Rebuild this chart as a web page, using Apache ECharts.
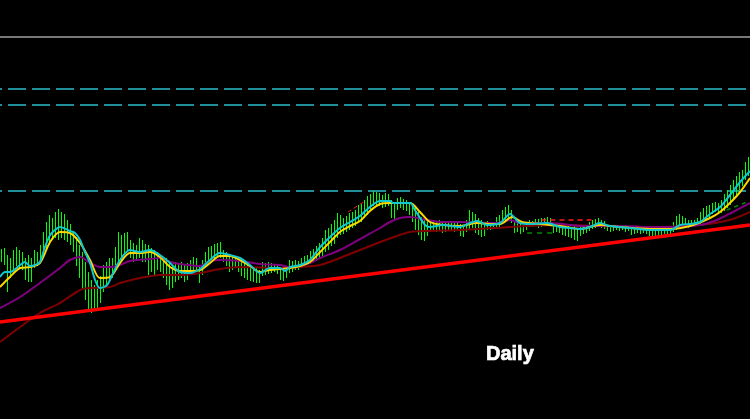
<!DOCTYPE html>
<html><head><meta charset="utf-8">
<script src="https://cdn.jsdelivr.net/npm/echarts@6/dist/echarts.min.js"></script>
<style>html,body{margin:0;padding:0;background:#000;}#c{width:750px;height:419px;}</style>
</head><body><div id="c"></div>
<script>
// Daily price bars: high / low per bar (arbitrary price units)
const highs = [170,171,164,161,169,172,169,167,161,164,
161,169,167,174,187,197,204,201,207,210,
207,205,199,195,187,182,174,167,157,147,
139,134,139,143,154,157,161,161,172,187,
184,186,187,179,176,174,181,179,175,174,
171,169,167,164,161,161,157,154,157,156,
157,154,156,159,162,161,154,159,167,172,
173,175,176,177,169,167,164,163,162,161,
159,157,154,153,152,151,149,157,156,157,
156,155,154,151,151,153,159,158,159,158,
161,163,164,168,170,173,176,181,189,191,
195,199,206,204,201,203,206,207,209,214,
215,219,223,225,228,227,226,224,226,225,
219,216,221,222,220,219,216,214,211,207,
202,199,199,198,199,198,199,198,197,197,
197,196,197,195,194,199,209,207,205,201,
199,197,198,196,197,202,204,209,212,214,
209,197,196,195,194,196,199,198,200,200,
201,201,202,201,194,194,195,194,193,194,
192,193,191,193,194,193,197,199,200,201,
199,198,194,194,193,194,193,193,192,193,
192,191,192,191,192,191,189,189,188,189,
190,191,190,191,197,203,205,203,201,199,
199,199,201,207,211,213,214,216,217,216,
219,225,229,234,239,243,247,249,257,262];
const lows = [157,154,127,141,149,153,151,149,139,137,
137,151,153,157,161,169,174,179,181,179,
181,179,177,174,167,153,141,129,119,109,
106,109,111,116,127,133,139,141,151,153,
157,164,169,161,157,159,161,157,157,144,
147,144,149,147,141,134,129,131,137,139,
141,137,139,144,149,147,136,144,153,157,
157,159,163,161,157,153,147,149,151,147,
143,141,139,138,137,136,136,143,144,145,
146,147,145,139,138,141,146,147,149,149,
151,152,154,155,157,158,161,163,167,169,
173,175,181,184,185,187,189,191,193,197,
197,201,204,209,213,214,213,211,212,213,
201,199,209,211,209,208,204,197,189,184,
179,178,183,187,189,187,188,186,187,189,
188,187,189,183,182,187,189,191,186,184,
182,183,189,189,190,191,192,195,197,199,
196,186,187,185,187,189,192,192,193,191,
192,193,194,193,186,187,186,184,183,182,
181,179,178,183,185,186,188,190,191,192,
191,190,188,187,188,189,188,189,187,188,
184,185,186,185,186,185,183,182,183,184,
184,185,184,185,187,189,191,192,191,191,
192,193,193,195,197,199,201,205,207,206,
206,208,211,214,219,224,229,233,239,243];

// Moving averages: [bar index, value]
const maFast = [[-0.5,142],[1.2,147],[2.8,147],[6.2,154],[7.8,157],[9.5,153],[11.2,154],[12.8,157],[14.5,172],[16.2,184],[17.8,189],[19.5,192],[22.8,188],[24.5,186],[26.2,179],[27.8,167],[29.5,156],[31.2,139],[32.8,131],[35.2,134],[37.2,146],[39.5,159],[42.8,169],[46.2,167],[49.5,169],[52.8,164],[56.2,156],[59.5,147],[62.8,146],[66.2,150],[69.5,159],[72.8,166],[76.2,164],[79.5,161],[82.8,154],[86.2,146],[89.5,151],[92.8,151],[94.5,148],[96.2,152],[99.5,154],[102.8,159],[106.2,172],[109.5,182],[112.8,191],[116.2,197],[119.5,203],[122.8,212],[126.2,218],[129.5,218],[130.5,216],[136.2,216],[137.8,209],[141.2,194],[142.8,192],[147.2,194],[152.8,192],[156.2,196],[158.5,198],[161.8,194],[166.2,196],[169.5,205],[172.8,196],[176.2,195],[181.8,196],[186.2,192],[189.5,191],[192.8,190],[196.2,192],[199.5,196],[202.8,193],[209.5,191],[216.2,189],[222.8,189],[226.2,194],[229.5,195],[232.8,197],[236.2,205],[239.5,212],[242.8,224],[246.2,237],[249.5,248]];
const maMid = [[-0.5,132],[2.8,142],[6.2,151],[9.5,152],[12.8,156],[16.2,177],[19.5,187],[22.8,186],[26.2,176],[29.5,159],[32.8,141],[36.2,142],[39.5,156],[42.8,166],[46.2,166],[49.5,167],[52.8,162],[56.2,152],[59.5,148],[62.8,148],[66.2,149],[69.5,156],[72.8,163],[76.2,163],[79.5,159],[82.8,153],[86.2,147],[89.5,149],[92.8,150],[96.2,151],[99.5,153],[102.8,157],[106.2,167],[109.5,177],[112.8,187],[116.2,193],[119.5,198],[122.8,208],[126.2,215],[129.5,216],[132.8,216],[136.2,216],[139.5,207],[142.8,197],[147.2,194],[152.8,193],[158.5,196],[162.8,195],[166.2,195],[170.2,202],[173.5,197],[179.5,195],[186.2,193],[192.8,190],[199.5,194],[206.2,192],[216.2,190],[222.8,190],[229.5,193],[236.2,201],[239.5,207],[242.8,216],[246.2,227],[249.5,241]];
const maSlow = [[-0.5,111],[6.2,122],[12.8,136],[19.5,151],[22.8,159],[26.2,162],[29.5,156],[32.8,152],[36.2,152],[39.5,154],[42.8,158],[49.5,160],[52.8,161],[56.2,157],[59.5,155],[66.2,153],[69.5,158],[72.8,159],[79.5,158],[86.2,155],[92.8,154],[96.2,152],[99.5,153],[102.8,156],[106.2,161],[112.8,169],[119.5,180],[126.2,191],[129.5,197],[132.8,201],[136.2,202],[141.8,199],[147.2,197],[152.8,197],[163.8,196],[167.2,197],[169.5,199],[172.8,196],[182.8,196],[193.8,193],[205.2,193],[216.2,192],[221.8,192],[232.8,194],[238.5,199],[243.8,207],[249.5,216]];
const maLong = [[-0.5,77],[6.2,92],[12.8,106],[19.5,116],[26.2,129],[29.5,131],[36.2,132],[39.5,136],[46.2,141],[52.8,144],[59.5,144],[66.2,146],[72.8,150],[79.5,152],[92.8,151],[99.5,152],[106.2,154],[112.8,161],[119.5,169],[126.2,177],[132.8,184],[136.2,187],[141.8,188],[152.8,189],[163.8,191],[175.2,193],[186.2,194],[199.5,193],[216.2,192],[232.8,194],[242.8,199],[249.5,207]];
const trend = [[-0.5,97],[249.5,194]];
const levelSolid = [382];
const levelsDashed = [330,314,228];
const redDash = [[180,199],[197.5,199]];
const redDiag = [[115.5,207],[121.2,218]];
const greenDash = [[175.2,186],[185.2,186]];
const greenDiag = [[241.8,209],[248.5,217]];
const label = 'Daily';

const X0 = -0.5, X1 = 249.5;
const chart = echarts.init(document.getElementById('c'), null, {renderer:'canvas'});
function hline(v, color, type, width, off){
  return {type:'line', data:[[X0,v],[X1,v]], showSymbol:false, silent:true, z:1,
    lineStyle:{color:color, width:width, type:type, dashOffset:off||0}};
}
const series = [];
levelSolid.forEach(v=>series.push(hline(v,'#a0a0a0','solid',1.5)));
levelsDashed.forEach(v=>series.push(hline(v,'#2cbfcc',[18,6],1.5,16)));
series.push({type:'custom', z:2, silent:true,
  data: highs.map((h,k)=>[k,h,lows[k]]),
  renderItem:function(params, api){
    const x = api.value(0);
    const p1 = api.coord([x, api.value(1)]);
    const p2 = api.coord([x, api.value(2)]);
    return {type:'line', shape:{x1:p1[0], y1:p1[1], x2:p2[0], y2:p2[1]},
      style:{stroke:'#00ff00', lineWidth:1}};
  }
});
function ma(d,color,w,z,type){
  return {type:'line', data:d, showSymbol:false, smooth:0.3, silent:true, z:z,
    lineStyle:{color:color, width:w, type:type||'solid'}};
}
series.push(ma(redDash,'#ff1a1a',1.5,3,[5,4]));
series.push(ma(redDiag,'#ff1a1a',1,3,[4,3]));
series.push(ma(greenDash,'#008800',1.5,3,[5,5]));
series.push(ma(greenDiag,'#008800',1.5,3,[4,4]));
series.push(ma(maLong,'#800000',2,4));
series.push(ma(maSlow,'#800080',2,5));
series.push(ma(maMid,'#ffd700',2,6));
series.push(ma(maFast,'#10c8d0',2,7));
series.push({type:'line', data:trend, showSymbol:false, silent:true, z:8,
  lineStyle:{color:'#ff0000', width:3.5}});

chart.setOption({
  backgroundColor:'#000000',
  animation:false,
  title:{text:label, left:481, top:339, textStyle:{color:'#ffffff', fontSize:20, fontWeight:'bold', fontFamily:'Liberation Sans, Arial, sans-serif', textBorderColor:'#ffffff', textBorderWidth:0.7}},
  grid:{left:0, right:0, top:0, bottom:0},
  xAxis:{type:'value', min:X0, max:X1, show:false},
  yAxis:{type:'value', min:0, max:419, show:false},
  series:series
});
</script></body></html>
